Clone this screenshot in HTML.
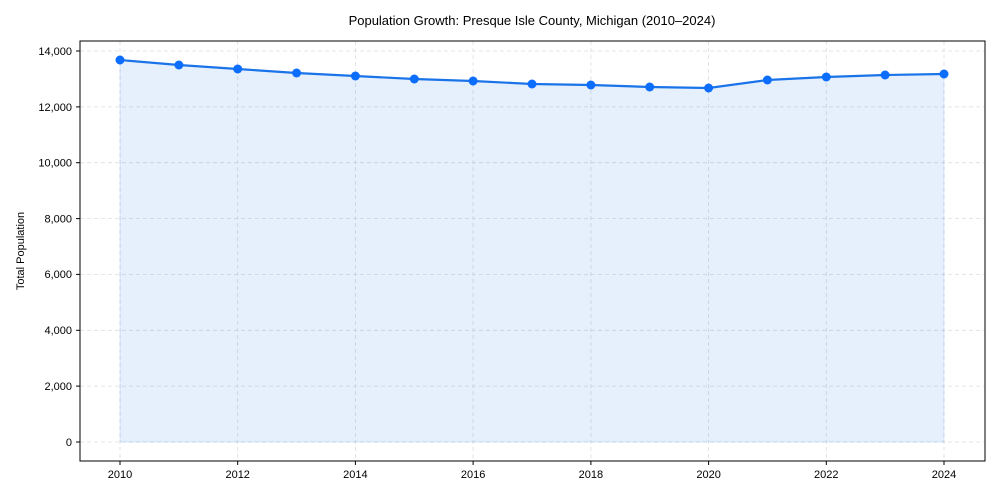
<!DOCTYPE html>
<html><head><meta charset="utf-8"><style>
body{margin:0;background:#fff;}
svg{display:block;font-family:"Liberation Sans Narrow","Liberation Sans",Arial,sans-serif;}
</style></head><body>
<svg width="1000" height="500" viewBox="0 0 1000 500" xmlns="http://www.w3.org/2000/svg">
<rect width="1000" height="500" fill="#fff"/>
<text x="532" y="25" font-size="13" text-anchor="middle" fill="#000">Population Growth: Presque Isle County, Michigan (2010–2024)</text>
<g stroke="#dddddd" stroke-width="0.8" stroke-dasharray="4,3">
<line x1="80" x2="985" y1="442" y2="442"/><line x1="80" x2="985" y1="386.1" y2="386.1"/>
<line x1="80" x2="985" y1="330.3" y2="330.3"/><line x1="80" x2="985" y1="274.4" y2="274.4"/>
<line x1="80" x2="985" y1="218.6" y2="218.6"/><line x1="80" x2="985" y1="162.7" y2="162.7"/>
<line x1="80" x2="985" y1="106.9" y2="106.9"/><line x1="80" x2="985" y1="51" y2="51"/>
<line x1="120" x2="120" y1="41" y2="461"/><line x1="237.7" x2="237.7" y1="41" y2="461"/>
<line x1="355.4" x2="355.4" y1="41" y2="461"/><line x1="473.1" x2="473.1" y1="41" y2="461"/>
<line x1="590.9" x2="590.9" y1="41" y2="461"/><line x1="708.6" x2="708.6" y1="41" y2="461"/>
<line x1="826.3" x2="826.3" y1="41" y2="461"/><line x1="944" x2="944" y1="41" y2="461"/>
</g>
<polygon fill="#1a73e8" fill-opacity="0.11" stroke="#1a73e8" stroke-opacity="0.12" points="120,442 120,60 178.9,65 237.7,69 296.6,73 355.4,76 414.3,79 473.1,81 532,84 590.9,85 649.7,87 708.6,88 767.4,80 826.3,77 885.1,75 944,74 944,442"/>
<polyline fill="none" stroke="#1a73e8" stroke-width="2.2" points="120,60 178.9,65 237.7,69 296.6,73 355.4,76 414.3,79 473.1,81 532,84 590.9,85 649.7,87 708.6,88 767.4,80 826.3,77 885.1,75 944,74"/>
<g fill="#0d6efd">
<circle cx="120" cy="60" r="4.5"/><circle cx="178.9" cy="65" r="4.5"/><circle cx="237.7" cy="69" r="4.5"/><circle cx="296.6" cy="73" r="4.5"/><circle cx="355.4" cy="76" r="4.5"/><circle cx="414.3" cy="79" r="4.5"/><circle cx="473.1" cy="81" r="4.5"/><circle cx="532" cy="84" r="4.5"/><circle cx="590.9" cy="85" r="4.5"/><circle cx="649.7" cy="87" r="4.5"/><circle cx="708.6" cy="88" r="4.5"/><circle cx="767.4" cy="80" r="4.5"/><circle cx="826.3" cy="77" r="4.5"/><circle cx="885.1" cy="75" r="4.5"/><circle cx="944" cy="74" r="4.5"/>
</g>
<rect x="80" y="41" width="905" height="420" fill="none" stroke="#000" stroke-width="1"/>
<g stroke="#000" stroke-width="1">
<line x1="76" x2="80" y1="442" y2="442"/><line x1="76" x2="80" y1="386.1" y2="386.1"/><line x1="76" x2="80" y1="330.3" y2="330.3"/><line x1="76" x2="80" y1="274.4" y2="274.4"/><line x1="76" x2="80" y1="218.6" y2="218.6"/><line x1="76" x2="80" y1="162.7" y2="162.7"/><line x1="76" x2="80" y1="106.9" y2="106.9"/><line x1="76" x2="80" y1="51" y2="51"/>
<line x1="120" x2="120" y1="461" y2="465"/><line x1="237.7" x2="237.7" y1="461" y2="465"/><line x1="355.4" x2="355.4" y1="461" y2="465"/><line x1="473.1" x2="473.1" y1="461" y2="465"/><line x1="590.9" x2="590.9" y1="461" y2="465"/><line x1="708.6" x2="708.6" y1="461" y2="465"/><line x1="826.3" x2="826.3" y1="461" y2="465"/><line x1="944" x2="944" y1="461" y2="465"/>
</g>
<g font-size="11" fill="#000" text-anchor="end">
<text x="72" y="446">0</text><text x="72" y="390">2,000</text><text x="72" y="334">4,000</text><text x="72" y="278">6,000</text><text x="72" y="222.5">8,000</text><text x="72" y="166.5">10,000</text><text x="72" y="111">12,000</text><text x="72" y="55">14,000</text>
</g>
<g font-size="11" fill="#000" text-anchor="middle">
<text x="120" y="478">2010</text><text x="237.7" y="478">2012</text><text x="355.4" y="478">2014</text><text x="473.1" y="478">2016</text><text x="590.9" y="478">2018</text><text x="708.6" y="478">2020</text><text x="826.3" y="478">2022</text><text x="944" y="478">2024</text>
</g>
<text x="24" y="251" font-size="11" text-anchor="middle" transform="rotate(-90 24 251)">Total Population</text>
</svg>
</body></html>
